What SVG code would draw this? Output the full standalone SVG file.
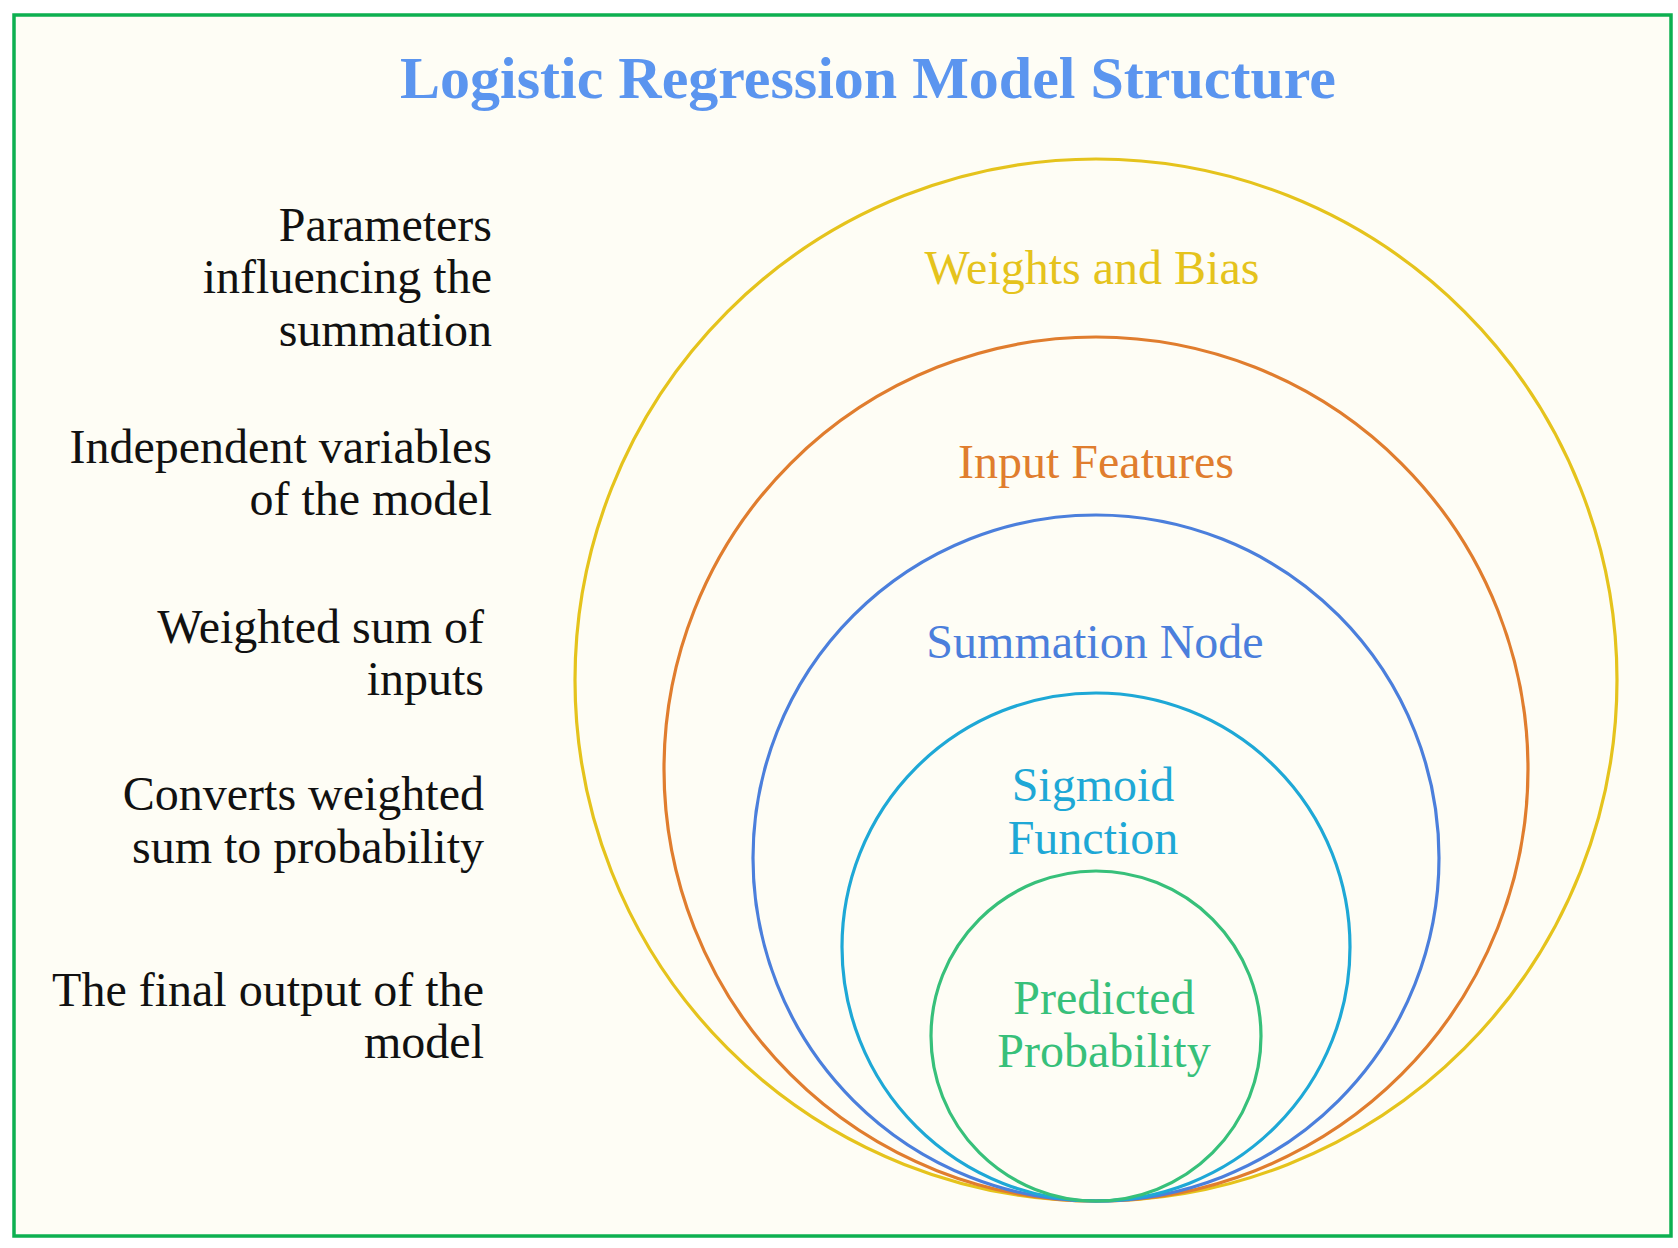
<svg xmlns="http://www.w3.org/2000/svg" width="1678" height="1248" viewBox="0 0 1678 1248">
<style>
.ring{fill:none;stroke-width:3.2}
.lbl{font-family:"Liberation Serif","Times New Roman",serif;font-size:48px;text-anchor:middle}
.desc{font-family:"Liberation Serif","Times New Roman",serif;font-size:48px;text-anchor:end;fill:#111}
.title{font-family:"Liberation Serif","Times New Roman",serif;font-size:60px;font-weight:bold;text-anchor:middle;fill:#5b95ef}
</style>
<rect x="0" y="0" width="1678" height="1248" fill="#ffffff"/>
<rect x="14" y="15" width="1657" height="1221" fill="#fefdf5" stroke="#0db050" stroke-width="3.5"/>
<text class="title" x="868" y="98">Logistic Regression Model Structure</text>
<g id="weights-bias">
<circle class="ring" cx="1096" cy="680" r="521" stroke="#e5c31c"/>
<text class="lbl" x="1092" y="284" fill="#e5c31c">Weights and Bias</text>
</g>
<g id="input-features">
<circle class="ring" cx="1096" cy="769" r="432" stroke="#e07d2e"/>
<text class="lbl" x="1096" y="478" fill="#e07d2e">Input Features</text>
</g>
<g id="summation-node">
<circle class="ring" cx="1096" cy="858" r="343" stroke="#4b7fdc"/>
<text class="lbl" x="1095" y="658" fill="#4b7fdc">Summation Node</text>
</g>
<g id="sigmoid-function">
<circle class="ring" cx="1096" cy="947" r="254" stroke="#1ea8d6"/>
<text class="lbl" x="1093" y="801" fill="#1ea8d6"><tspan x="1093">Sigmoid</tspan><tspan x="1093" y="854">Function</tspan></text>
</g>
<g id="predicted-probability">
<circle class="ring" cx="1096" cy="1036" r="165" stroke="#37c07a"/>
<text class="lbl" x="1104" y="1014" fill="#37c07a"><tspan x="1104">Predicted</tspan><tspan x="1104" y="1067">Probability</tspan></text>
</g>
<g id="descriptions">
<text class="desc" x="492" y="241"><tspan x="492">Parameters</tspan><tspan x="492" y="293">influencing the</tspan><tspan x="492" y="346">summation</tspan></text>
<text class="desc" x="492" y="463"><tspan x="492">Independent variables</tspan><tspan x="492" y="515">of the model</tspan></text>
<text class="desc" x="484" y="643"><tspan x="484">Weighted sum of</tspan><tspan x="484" y="695">inputs</tspan></text>
<text class="desc" x="484" y="810"><tspan x="484">Converts weighted</tspan><tspan x="484" y="863">sum to probability</tspan></text>
<text class="desc" x="484" y="1006"><tspan x="484">The final output of the</tspan><tspan x="484" y="1058">model</tspan></text>
</g>
<g id="connectors"></g>
</svg>
